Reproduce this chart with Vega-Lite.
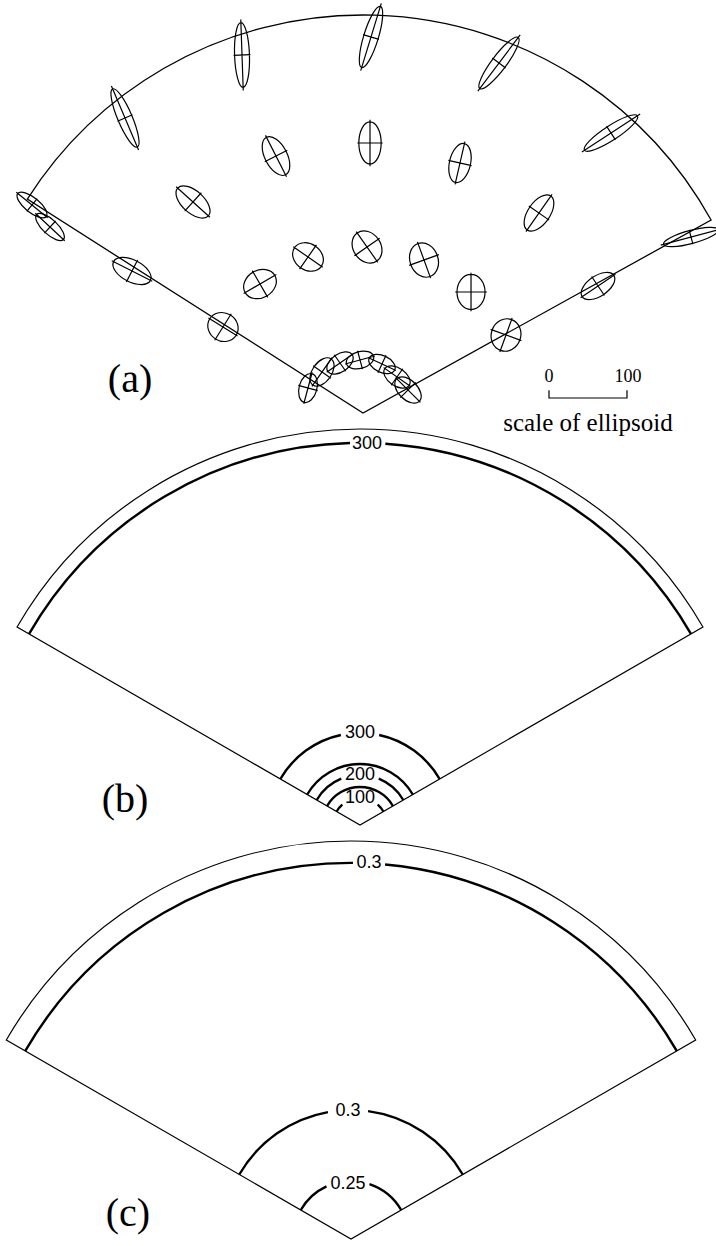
{
  "$schema": "https://vega.github.io/schema/vega-lite/v6.json",
  "padding": 0,
  "background": "white",
  "spacing": 0,
  "bounds": "flush",
  "config": {"view": {"stroke": null}, "legend": {"disable": true}},
  "datasets": {
    "sectors": [
      {"panel": "a", "x0": 0, "y0": 0, "r": 1, "from": -57.5, "to": 61},
      {"panel": "b", "x0": 0, "y0": 0, "r": 1, "from": -60, "to": 60},
      {"panel": "c", "x0": 0, "y0": 0, "r": 1, "from": -60, "to": 60}
    ],
    "contours": [
      {"panel": "b", "level": 300, "x0": 0, "y0": 0, "r": 0.965, "from": -60, "to": -1.5},
      {"panel": "b", "level": 300, "x0": 0, "y0": 0, "r": 0.965, "from": 3.8, "to": 60},
      {"panel": "b", "level": 300, "x0": 0, "y0": 0, "r": 0.2323, "from": -60, "to": -12},
      {"panel": "b", "level": 300, "x0": 0, "y0": 0, "r": 0.2323, "from": 12, "to": 60},
      {"panel": "b", "level": 250, "x0": 0, "y0": 0, "r": 0.154, "from": -60, "to": 60},
      {"panel": "b", "level": 200, "x0": 0, "y0": 0, "r": 0.1263, "from": -60, "to": -22},
      {"panel": "b", "level": 200, "x0": 0, "y0": 0, "r": 0.1263, "from": 22, "to": 60},
      {"panel": "b", "level": 150, "x0": 0, "y0": 0, "r": 0.096, "from": -60, "to": 60},
      {"panel": "b", "level": 100, "x0": 0, "y0": 0, "r": 0.0682, "from": -60, "to": -41},
      {"panel": "b", "level": 100, "x0": 0, "y0": 0, "r": 0.0682, "from": 41, "to": 60},
      {"panel": "c", "level": 0.3, "x0": 0, "y0": 0, "r": 0.945, "from": -60, "to": 0.3},
      {"panel": "c", "level": 0.3, "x0": 0, "y0": 0, "r": 0.945, "from": 5.2, "to": 60},
      {"panel": "c", "level": 0.3, "x0": 0, "y0": 0, "r": 0.3241, "from": -60, "to": -10.3},
      {"panel": "c", "level": 0.3, "x0": 0, "y0": 0, "r": 0.3241, "from": 7.6, "to": 60},
      {"panel": "c", "level": 0.25, "x0": 0, "y0": 0, "r": 0.1457, "from": -60, "to": -25},
      {"panel": "c", "level": 0.25, "x0": 0, "y0": 0, "r": 0.1457, "from": 18.6, "to": 60}
    ],
    "contourLabels": [
      {"panel": "b", "text": "300", "x": 0.0177, "y": 0.9625},
      {"panel": "b", "text": "300", "x": 0, "y": 0.2323},
      {"panel": "b", "text": "200", "x": 0, "y": 0.1263},
      {"panel": "b", "text": "100", "x": 0, "y": 0.0682},
      {"panel": "c", "text": "0.3", "x": 0.0452, "y": 0.944},
      {"panel": "c", "text": "0.3", "x": -0.0075, "y": 0.3204},
      {"panel": "c", "text": "0.25", "x": -0.0075, "y": 0.1382}
    ],
    "tags": [
      {"panel": "a", "text": "(a)", "x": -0.5854, "y": 0.0829},
      {"panel": "b", "text": "(b)", "x": -0.5934, "y": 0.0631},
      {"panel": "c", "text": "(c)", "x": -0.5603, "y": 0.0628}
    ],
    "ellipsoids": [
      {"x": -0.8317, "y": 0.5226, "major": 47, "aspect": "0.4", "angle": -51},
      {"x": -0.7864, "y": 0.4673, "major": 47, "aspect": "0.4", "angle": -47},
      {"x": -0.598, "y": 0.7412, "major": 81, "aspect": "0.23", "angle": -23},
      {"x": -0.304, "y": 0.8995, "major": 83, "aspect": "0.23", "angle": -2},
      {"x": 0.0201, "y": 0.9447, "major": 82, "aspect": "0.23", "angle": 17},
      {"x": 0.3417, "y": 0.8794, "major": 82, "aspect": "0.23", "angle": 37},
      {"x": 0.6231, "y": 0.7035, "major": 81, "aspect": "0.23", "angle": 57},
      {"x": 0.8241, "y": 0.4422, "major": 73, "aspect": "0.23", "angle": 75},
      {"x": -0.5804, "y": 0.3568, "major": 53, "aspect": "0.53", "angle": -63},
      {"x": -0.4271, "y": 0.5302, "major": 53, "aspect": "0.53", "angle": -48},
      {"x": -0.2186, "y": 0.6457, "major": 54, "aspect": "0.53", "angle": -27},
      {"x": 0.0176, "y": 0.6784, "major": 54, "aspect": "0.53", "angle": 0},
      {"x": 0.2437, "y": 0.6281, "major": 51, "aspect": "0.53", "angle": 13},
      {"x": 0.4422, "y": 0.5025, "major": 53, "aspect": "0.53", "angle": 35},
      {"x": 0.5905, "y": 0.3191, "major": 49, "aspect": "0.53", "angle": 56},
      {"x": -0.3518, "y": 0.2161, "major": 40, "aspect": "0.9", "angle": -58},
      {"x": -0.2588, "y": 0.3241, "major": 44, "aspect": "0.8", "angle": 60},
      {"x": -0.1382, "y": 0.392, "major": 42, "aspect": "0.8", "angle": -55},
      {"x": 0.0101, "y": 0.4171, "major": 44, "aspect": "0.8", "angle": -35},
      {"x": 0.1533, "y": 0.3844, "major": 45, "aspect": "0.8", "angle": -20},
      {"x": 0.2714, "y": 0.304, "major": 45, "aspect": "0.8", "angle": 0},
      {"x": 0.3593, "y": 0.196, "major": 42, "aspect": "0.9", "angle": 20},
      {"x": -0.1382, "y": 0.0628, "major": 38, "aspect": "0.6", "angle": 15},
      {"x": -0.103, "y": 0.103, "major": 41, "aspect": "0.6", "angle": 35},
      {"x": -0.0578, "y": 0.1256, "major": 38, "aspect": "0.6", "angle": 55},
      {"x": -0.0075, "y": 0.1332, "major": 36, "aspect": "0.6", "angle": 75},
      {"x": 0.0477, "y": 0.1231, "major": 36, "aspect": "0.6", "angle": -65},
      {"x": 0.0854, "y": 0.0905, "major": 38, "aspect": "0.6", "angle": -55},
      {"x": 0.1131, "y": 0.0578, "major": 41, "aspect": "0.6", "angle": -45}
    ],
    "scalebar": [
      {"x": 0.5653, "y": 0.0377, "major": 100, "aspect": "bar", "angle": 0}
    ],
    "scaleNumbers": [
      {"text": "0", "x": 0.4673, "y": 0.0905},
      {"text": "100", "x": 0.6658, "y": 0.0905}
    ],
    "scaleCaption": [
      {"text": "scale of ellipsoid", "x": 0.5653, "y": -0.0251}
    ]
  },
  "vconcat": [
    {
      "width": 716,
      "height": 413,
      "layer": [
        {
          "data": {"name": "sectors"},
          "transform": [{"filter": "datum.panel === 'a'"}],
          "mark": {"type": "arc", "filled": false, "stroke": "black", "strokeWidth": 1.3},
          "encoding": {
            "x": {"field": "x0", "type": "quantitative", "scale": {"domain": [-0.91206, 0.88693], "nice": false, "zero": false}, "axis": null},
            "y": {"field": "y0", "type": "quantitative", "scale": {"domain": [0, 1.03769], "nice": false, "zero": false}, "axis": null},
            "theta": {"field": "from", "type": "quantitative", "stack": null, "scale": {"domain": [-180, 180], "range": [-3.141592653589793, 3.141592653589793]}},
            "theta2": {"field": "to"},
            "radius": {"field": "r", "type": "quantitative", "scale": {"type": "linear", "domain": [0, 1], "range": [0, 398]}}
          }
        },
        {
          "data": {"name": "ellipsoids"},
          "mark": {"type": "point", "filled": false, "color": "black", "strokeWidth": 1.2, "opacity": 1},
          "encoding": {
            "x": {"field": "x", "type": "quantitative", "scale": {"domain": [-0.91206, 0.88693], "nice": false, "zero": false}, "axis": null},
            "y": {"field": "y", "type": "quantitative", "scale": {"domain": [0, 1.03769], "nice": false, "zero": false}, "axis": null},
            "size": {"field": "major", "type": "quantitative", "scale": {"type": "pow", "exponent": 2, "domain": [0, 100], "range": [0, 6084]}, "legend": null},
            "shape": {"field": "aspect", "type": "nominal", "legend": null, "scale": {
              "domain": ["0.23", "0.4", "0.53", "0.6", "0.8", "0.9", "bar"],
              "range": [
                "M0,-1C0.127,-1,0.23,-0.552,0.23,0C0.23,0.552,0.127,1,0,1C-0.127,1,-0.23,0.552,-0.23,0C-0.23,-0.552,-0.127,-1,0,-1ZM0,-1.1L0,1.1M-0.26,0L0.26,0",
                "M0,-1C0.221,-1,0.4,-0.552,0.4,0C0.4,0.552,0.221,1,0,1C-0.221,1,-0.4,0.552,-0.4,0C-0.4,-0.552,-0.221,-1,0,-1ZM0,-1.1L0,1.1M-0.45,0L0.45,0",
                "M0,-1C0.293,-1,0.53,-0.552,0.53,0C0.53,0.552,0.293,1,0,1C-0.293,1,-0.53,0.552,-0.53,0C-0.53,-0.552,-0.293,-1,0,-1ZM0,-1.1L0,1.1M-0.6,0L0.6,0",
                "M0,-1C0.331,-1,0.6,-0.552,0.6,0C0.6,0.552,0.331,1,0,1C-0.331,1,-0.6,0.552,-0.6,0C-0.6,-0.552,-0.331,-1,0,-1ZM0,-1.1L0,1.1M-0.68,0L0.68,0",
                "M0,-1C0.442,-1,0.8,-0.552,0.8,0C0.8,0.552,0.442,1,0,1C-0.442,1,-0.8,0.552,-0.8,0C-0.8,-0.552,-0.442,-1,0,-1ZM0,-1.1L0,1.1M-0.9,0L0.9,0",
                "M0,-1C0.497,-1,0.9,-0.552,0.9,0C0.9,0.552,0.497,1,0,1C-0.497,1,-0.9,0.552,-0.9,0C-0.9,-0.552,-0.497,-1,0,-1ZM0,-1.1L0,1.1M-1,0L1,0",
                "M-1,-0.2L-1,0L1,0L1,-0.2"
              ]}},
            "angle": {"field": "angle", "type": "quantitative", "scale": null}
          }
        },
        {
          "data": {"name": "scalebar"},
          "mark": {"type": "point", "filled": false, "color": "black", "strokeWidth": 1.2, "opacity": 1},
          "encoding": {
            "x": {"field": "x", "type": "quantitative", "scale": {"domain": [-0.91206, 0.88693], "nice": false, "zero": false}, "axis": null},
            "y": {"field": "y", "type": "quantitative", "scale": {"domain": [0, 1.03769], "nice": false, "zero": false}, "axis": null},
            "size": {"field": "major", "type": "quantitative", "scale": {"type": "pow", "exponent": 2, "domain": [0, 100], "range": [0, 6084]}, "legend": null},
            "shape": {"field": "aspect", "type": "nominal", "legend": null},
            "angle": {"field": "angle", "type": "quantitative", "scale": null}
          }
        },
        {
          "data": {"name": "scaleNumbers"},
          "mark": {"type": "text", "font": "Liberation Serif", "fontSize": 18, "align": "center", "baseline": "middle", "color": "black"},
          "encoding": {
            "x": {"field": "x", "type": "quantitative", "scale": {"domain": [-0.91206, 0.88693], "nice": false, "zero": false}, "axis": null},
            "y": {"field": "y", "type": "quantitative", "scale": {"domain": [0, 1.03769], "nice": false, "zero": false}, "axis": null},
            "text": {"field": "text"}
          }
        },
        {
          "data": {"name": "scaleCaption"},
          "mark": {"type": "text", "font": "Liberation Serif", "fontSize": 25, "align": "center", "baseline": "middle", "color": "black"},
          "encoding": {
            "x": {"field": "x", "type": "quantitative", "scale": {"domain": [-0.91206, 0.88693], "nice": false, "zero": false}, "axis": null},
            "y": {"field": "y", "type": "quantitative", "scale": {"domain": [0, 1.03769], "nice": false, "zero": false}, "axis": null},
            "text": {"field": "text"}
          }
        },
        {
          "data": {"name": "tags"},
          "transform": [{"filter": "datum.panel === 'a'"}],
          "mark": {"type": "text", "font": "Liberation Serif", "fontSize": 40, "align": "center", "baseline": "middle", "color": "black"},
          "encoding": {
            "x": {"field": "x", "type": "quantitative", "scale": {"domain": [-0.91206, 0.88693], "nice": false, "zero": false}, "axis": null},
            "y": {"field": "y", "type": "quantitative", "scale": {"domain": [0, 1.03769], "nice": false, "zero": false}, "axis": null},
            "text": {"field": "text"}
          }
        }
      ]
    },
    {
      "width": 716,
      "height": 413,
      "layer": [
        {
          "data": {"name": "sectors"},
          "transform": [{"filter": "datum.panel === 'b'"}],
          "mark": {"type": "arc", "filled": false, "stroke": "black", "strokeWidth": 1.2},
          "encoding": {
            "x": {"field": "x0", "type": "quantitative", "scale": {"domain": [-0.90909, 0.89899], "nice": false, "zero": false}, "axis": null},
            "y": {"field": "y0", "type": "quantitative", "scale": {"domain": [-0.002525, 1.040404], "nice": false, "zero": false}, "axis": null},
            "theta": {"field": "from", "type": "quantitative", "stack": null, "scale": {"domain": [-180, 180], "range": [-3.141592653589793, 3.141592653589793]}},
            "theta2": {"field": "to"},
            "radius": {"field": "r", "type": "quantitative", "scale": {"type": "linear", "domain": [0, 1], "range": [0, 396]}}
          }
        },
        {
          "data": {"name": "contours"},
          "transform": [{"filter": "datum.panel === 'b'"}],
          "mark": {"type": "arc", "filled": false, "stroke": "black", "strokeWidth": 2.4},
          "encoding": {
            "x": {"field": "x0", "type": "quantitative", "scale": {"domain": [-0.90909, 0.89899], "nice": false, "zero": false}, "axis": null},
            "y": {"field": "y0", "type": "quantitative", "scale": {"domain": [-0.002525, 1.040404], "nice": false, "zero": false}, "axis": null},
            "theta": {"field": "from", "type": "quantitative", "stack": null, "scale": {"domain": [-180, 180], "range": [-3.141592653589793, 3.141592653589793]}},
            "theta2": {"field": "to"},
            "radius": {"field": "r", "type": "quantitative", "scale": {"type": "linear", "domain": [0, 1], "range": [0, 396]}},
            "radius2": {"field": "r"}
          }
        },
        {
          "data": {"name": "contourLabels"},
          "transform": [{"filter": "datum.panel === 'b'"}],
          "mark": {"type": "text", "font": "Liberation Sans", "fontSize": 18, "align": "center", "baseline": "middle", "color": "black"},
          "encoding": {
            "x": {"field": "x", "type": "quantitative", "scale": {"domain": [-0.90909, 0.89899], "nice": false, "zero": false}, "axis": null},
            "y": {"field": "y", "type": "quantitative", "scale": {"domain": [-0.002525, 1.040404], "nice": false, "zero": false}, "axis": null},
            "text": {"field": "text"}
          }
        },
        {
          "data": {"name": "tags"},
          "transform": [{"filter": "datum.panel === 'b'"}],
          "mark": {"type": "text", "font": "Liberation Serif", "fontSize": 40, "align": "center", "baseline": "middle", "color": "black"},
          "encoding": {
            "x": {"field": "x", "type": "quantitative", "scale": {"domain": [-0.90909, 0.89899], "nice": false, "zero": false}, "axis": null},
            "y": {"field": "y", "type": "quantitative", "scale": {"domain": [-0.002525, 1.040404], "nice": false, "zero": false}, "axis": null},
            "text": {"field": "text"}
          }
        }
      ]
    },
    {
      "width": 716,
      "height": 413,
      "layer": [
        {
          "data": {"name": "sectors"},
          "transform": [{"filter": "datum.panel === 'c'"}],
          "mark": {"type": "arc", "filled": false, "stroke": "black", "strokeWidth": 1.2},
          "encoding": {
            "x": {"field": "x0", "type": "quantitative", "scale": {"domain": [-0.88191, 0.91709], "nice": false, "zero": false}, "axis": null},
            "y": {"field": "y0", "type": "quantitative", "scale": {"domain": [0, 1.03769], "nice": false, "zero": false}, "axis": null},
            "theta": {"field": "from", "type": "quantitative", "stack": null, "scale": {"domain": [-180, 180], "range": [-3.141592653589793, 3.141592653589793]}},
            "theta2": {"field": "to"},
            "radius": {"field": "r", "type": "quantitative", "scale": {"type": "linear", "domain": [0, 1], "range": [0, 398]}}
          }
        },
        {
          "data": {"name": "contours"},
          "transform": [{"filter": "datum.panel === 'c'"}],
          "mark": {"type": "arc", "filled": false, "stroke": "black", "strokeWidth": 2.4},
          "encoding": {
            "x": {"field": "x0", "type": "quantitative", "scale": {"domain": [-0.88191, 0.91709], "nice": false, "zero": false}, "axis": null},
            "y": {"field": "y0", "type": "quantitative", "scale": {"domain": [0, 1.03769], "nice": false, "zero": false}, "axis": null},
            "theta": {"field": "from", "type": "quantitative", "stack": null, "scale": {"domain": [-180, 180], "range": [-3.141592653589793, 3.141592653589793]}},
            "theta2": {"field": "to"},
            "radius": {"field": "r", "type": "quantitative", "scale": {"type": "linear", "domain": [0, 1], "range": [0, 398]}},
            "radius2": {"field": "r"}
          }
        },
        {
          "data": {"name": "contourLabels"},
          "transform": [{"filter": "datum.panel === 'c'"}],
          "mark": {"type": "text", "font": "Liberation Sans", "fontSize": 18, "align": "center", "baseline": "middle", "color": "black"},
          "encoding": {
            "x": {"field": "x", "type": "quantitative", "scale": {"domain": [-0.88191, 0.91709], "nice": false, "zero": false}, "axis": null},
            "y": {"field": "y", "type": "quantitative", "scale": {"domain": [0, 1.03769], "nice": false, "zero": false}, "axis": null},
            "text": {"field": "text"}
          }
        },
        {
          "data": {"name": "tags"},
          "transform": [{"filter": "datum.panel === 'c'"}],
          "mark": {"type": "text", "font": "Liberation Serif", "fontSize": 40, "align": "center", "baseline": "middle", "color": "black"},
          "encoding": {
            "x": {"field": "x", "type": "quantitative", "scale": {"domain": [-0.88191, 0.91709], "nice": false, "zero": false}, "axis": null},
            "y": {"field": "y", "type": "quantitative", "scale": {"domain": [0, 1.03769], "nice": false, "zero": false}, "axis": null},
            "text": {"field": "text"}
          }
        }
      ]
    }
  ]
}
